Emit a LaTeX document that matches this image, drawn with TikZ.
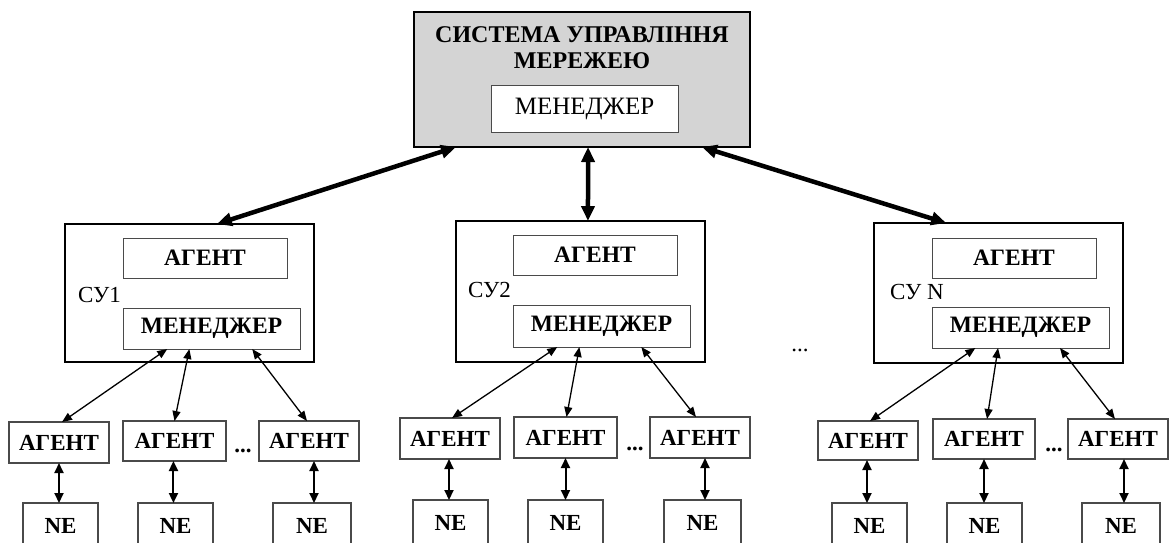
\documentclass[tikz,border=0pt]{standalone}
\usepackage{fontspec}
\setmainfont{Liberation Serif}
\usetikzlibrary{arrows.meta,calc}
\definecolor{panelgray}{HTML}{D4D4D4}
\definecolor{edgegray}{HTML}{4A4A4A}
\begin{document}
\begin{tikzpicture}[x=1pt,y=-1pt,
  every node/.style={font=\fontsize{23}{26}\selectfont, inner sep=0pt, outer sep=0pt},
  size/.style 2 args={minimum width=#1pt, minimum height=#2pt},
  sysbox/.style={anchor=north west, draw, line width=2.2pt, fill=panelgray},
  subsys/.style={anchor=north west, draw, line width=2pt, fill=white},
  inbox/.style={anchor=north west, draw=edgegray, line width=1pt, fill=white, font=\fontsize{23.5}{26}\selectfont\bfseries},
  leaf/.style={anchor=north west, draw=edgegray, line width=1.4pt, fill=white, font=\fontsize{23}{26}\selectfont\bfseries},
  titletext/.style={anchor=base, font=\fontsize{24}{26}\selectfont\bfseries},
  sulabel/.style={anchor=west},
  dotsnode/.style={anchor=base},
  bigarrow/.style={line width=4.5pt, {Triangle[length=15pt,width=13pt]}-{Triangle[length=15pt,width=13pt]}},
  link/.style={line width=1.3pt, {Triangle[length=10pt,width=8pt]}-{Triangle[length=10pt,width=8pt]}},
  vlink/.style={line width=2pt, {Triangle[length=10pt,width=9pt]}-{Triangle[length=10pt,width=9pt]}}
]
\path[use as bounding box] (0,0) rectangle (1170,542);
\clip (0,0) rectangle (1170,542);

% network management system
\node[sysbox, size={336}{135}] (nms) at (414,12) {};
\node[titletext] (t1) at (582,42) {СИСТЕМА УПРАВЛІННЯ};
\node[titletext] (t2) at (582,68) {МЕРЕЖЕЮ};
\node[anchor=north west, draw=edgegray, line width=1pt, fill=white, size={187}{47},
      font=\fontsize{25}{28}\selectfont] (nmsmgr) at (491,85) {МЕНЕДЖЕР};

% control subsystems
\node[subsys, size={249}{138}] (su1) at (65,224) {};
\node[subsys, size={249}{141}] (su2) at (456,221) {};
\node[subsys, size={249}{140}] (suN) at (874,223) {};

\node[inbox, size={164}{40}] (a1) at (123,238) {АГЕНТ};
\node[inbox, size={177}{41}] (m1) at (123,308) {МЕНЕДЖЕР};
\node[inbox, size={164}{40}] (a2) at (513,235) {АГЕНТ};
\node[inbox, size={177}{42}] (m2) at (513,305) {МЕНЕДЖЕР};
\node[inbox, size={164}{40}] (aN) at (932,238) {АГЕНТ};
\node[inbox, size={177}{41}] (mN) at (932,307) {МЕНЕДЖЕР};

\node[sulabel] (l1) at (78,295) {СУ1};
\node[sulabel] (l2) at (468,290) {СУ2};
\node[sulabel] (lN) at (890,292) {СУ N};
\node[dotsnode] (dmid) at (800,351) {...};

% agents of the managed elements
\node[leaf, size={100}{41}] (g11) at (9,422) {АГЕНТ};
\node[leaf, size={103}{40}] (g12) at (123,421) {АГЕНТ};
\node[leaf, size={100}{40}] (g13) at (259,421) {АГЕНТ};
\node[leaf, size={100}{41}] (g21) at (400,418) {АГЕНТ};
\node[leaf, size={103}{41}] (g22) at (514,417) {АГЕНТ};
\node[leaf, size={100}{41}] (g23) at (650,417) {АГЕНТ};
\node[leaf, size={100}{39}] (g31) at (818,421) {АГЕНТ};
\node[leaf, size={102}{40}] (g32) at (933,419) {АГЕНТ};
\node[leaf, size={100}{40}] (g33) at (1068,419) {АГЕНТ};

\node[dotsnode, font=\fontsize{23}{26}\selectfont\bfseries] (d1) at (243,452) {...};
\node[dotsnode, font=\fontsize{23}{26}\selectfont\bfseries] (d2) at (635,450) {...};
\node[dotsnode, font=\fontsize{23}{26}\selectfont\bfseries] (d3) at (1054,451) {...};

% network elements
\node[leaf, size={75}{45}] (n11) at (23,503) {NE};
\node[leaf, size={75}{45}] (n12) at (138,503) {NE};
\node[leaf, size={78}{45}] (n13) at (273,503) {NE};
\node[leaf, size={75}{45}] (n21) at (413,500) {NE};
\node[leaf, size={75}{45}] (n22) at (528,500) {NE};
\node[leaf, size={77}{45}] (n23) at (664,500) {NE};
\node[leaf, size={75}{45}] (n31) at (832,503) {NE};
\node[leaf, size={75}{45}] (n32) at (947,503) {NE};
\node[leaf, size={78}{45}] (n33) at (1082,503) {NE};

% links: management system <-> subsystems
\draw[bigarrow] ($(nms.south west)!.125!(nms.south east)$) -- ($(su1.north west)!.61!(su1.north east)$);
\draw[bigarrow] ($(nms.south west)!.518!(nms.south east)$) -- ($(su2.north west)!.53!(su2.north east)$);
\draw[bigarrow] ($(nms.south west)!.857!(nms.south east)$) -- ($(suN.north west)!.29!(suN.north east)$);

% links: subsystem managers <-> agents
\foreach \m/\a/\fm/\fa in {m1/g11/.25/.53, m1/g12/.375/.5, m1/g13/.73/.48,
                          m2/g21/.25/.52, m2/g22/.375/.51, m2/g23/.725/.46,
                          mN/g31/.245/.52, mN/g32/.373/.53, mN/g33/.723/.47}
  \draw[link] ($(\m.south west)!\fm!(\m.south east)$) -- ($(\a.north west)!\fa!(\a.north east)$);

% links: agents <-> network elements
\foreach \g/\n/\f in {g11/n11/.5, g12/n12/.49, g13/n13/.55,
                     g21/n21/.49, g22/n22/.5, g23/n23/.55,
                     g31/n31/.49, g32/n32/.5, g33/n33/.56}
  \draw[vlink] ($(\g.south west)!\f!(\g.south east)$) coordinate (tmp) -- (tmp |- \n.north);
\end{tikzpicture}
\end{document}
